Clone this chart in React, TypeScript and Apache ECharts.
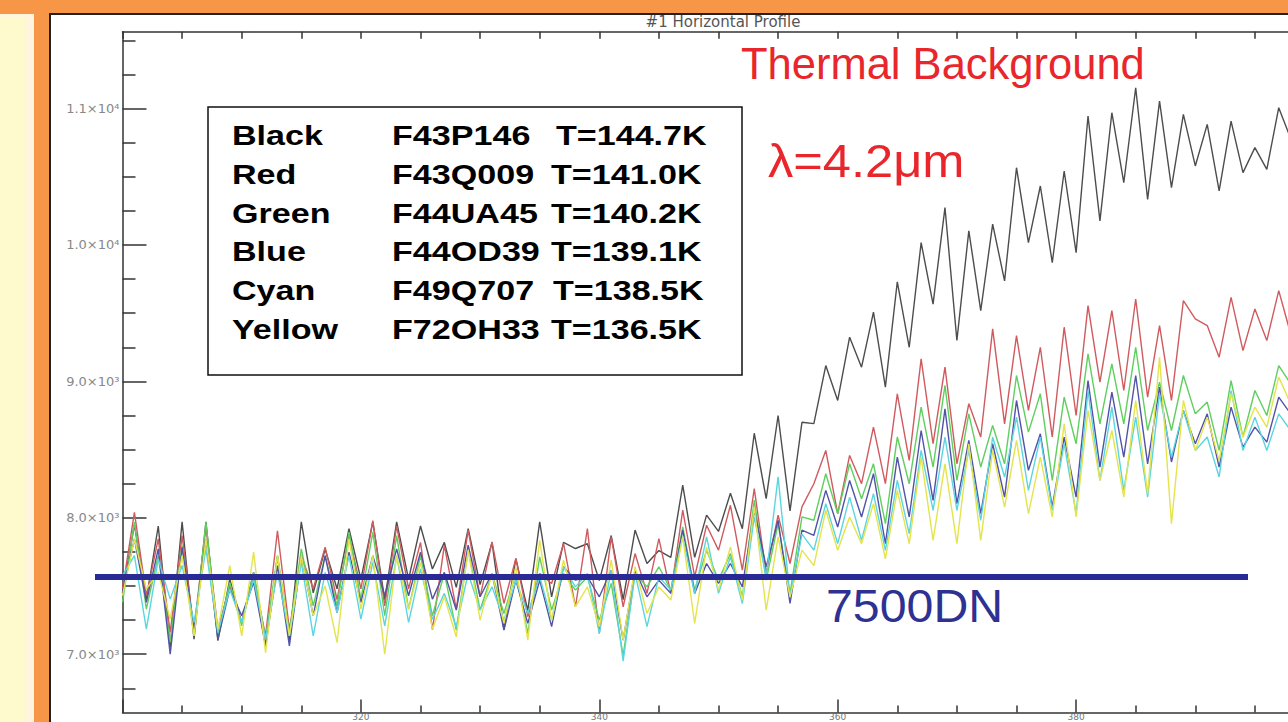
import React, { useEffect, useRef } from "react";
import * as echarts from "echarts";

const xValues = [
  300, 301, 302, 303, 304, 305, 306, 307, 308, 309,
  310, 311, 312, 313, 314, 315, 316, 317, 318, 319,
  320, 321, 322, 323, 324, 325, 326, 327, 328, 329,
  330, 331, 332, 333, 334, 335, 336, 337, 338, 339,
  340, 341, 342, 343, 344, 345, 346, 347, 348, 349,
  350, 351, 352, 353, 354, 355, 356, 357, 358, 359,
  360, 361, 362, 363, 364, 365, 366, 367, 368, 369,
  370, 371, 372, 373, 374, 375, 376, 377, 378, 379,
  380, 381, 382, 383, 384, 385, 386, 387, 388, 389,
  390, 391, 392, 393, 394, 395, 396, 397, 398,
];

const blackValues = [
  7450, 7950, 7400, 7940, 7050, 7970, 7110, 7970, 7100, 7550,
  7230, 7600, 7060, 7720, 7100, 7970, 7450, 7770, 7480, 7920,
  7550, 7970, 7400, 7970, 7550, 7940, 7625, 7820, 7490, 7920,
  7510, 7820, 7180, 7700, 7320, 7970, 7420, 7820, 7775, 7810,
  7540, 7870, 7400, 7910, 7665, 7760, 7710, 8240, 7710, 8020,
  7900, 8180, 7920, 8620, 8140, 8750, 8050, 8700, 8690, 9116,
  8860, 9324, 9104, 9507, 8958, 9730, 9250, 10017, 9566, 10274,
  9300, 10103, 9519, 10152, 9737, 10566, 10017, 10432, 9871, 10542,
  9944, 10945, 10176, 10969, 10456, 11152, 10334, 11054, 10420, 10957,
  10579, 10884, 10396, 10908, 10530, 10713, 10554, 11006, 10780,
];

const redValues = [
  7478, 8040, 7430, 7845, 7160, 7870, 7180, 7940, 7180, 7500,
  7230, 7575, 7135, 7905, 7180, 7720, 7480, 7785, 7400, 7870,
  7480, 7980, 7355, 7940, 7480, 7820, 7180, 7800, 7330, 7909,
  7421, 7824, 7372, 7702, 7275, 7592, 7519, 7812, 7348, 7921,
  7153, 7860, 7348, 7738, 7446, 7848, 7446, 8056, 7568, 7946,
  7763, 8092, 7616, 8214, 7592, 8019, 7665, 8080, 8250, 8494,
  8030, 8457, 8250, 8665, 8250, 8909, 8421, 9165, 8543, 9104,
  8396, 8836, 8592, 9385, 8689, 9336, 8787, 9250, 8592, 9397,
  8750, 9555, 8994, 9519, 8933, 9604, 8884, 9409, 8860, 9592,
  9458, 9409, 9177, 9616, 9226, 9531, 9299, 9665, 9348,
];

const greenValues = [
  7380, 7968, 7331, 7723, 7086, 7797, 7135, 7968, 7135, 7527,
  7208, 7600, 7110, 7723, 7159, 7772, 7355, 7723, 7355, 7895,
  7404, 7895, 7282, 7870, 7331, 7723, 7282, 7592, 7177, 7763,
  7324, 7592, 7299, 7592, 7153, 7714, 7324, 7592, 7470, 7568,
  7250, 7519, 6990, 7592, 7494, 7641, 7470, 7934, 7470, 7763,
  7543, 7738, 7421, 8129, 7543, 7958, 7446, 8007, 7982, 8323,
  8030, 8396, 8140, 8396, 7957, 8592, 8250, 8811, 8372, 8970,
  8274, 8762, 8372, 8677, 8396, 9043, 8628, 8909, 8274, 8884,
  8543, 9202, 8689, 9128, 8689, 9250, 8640, 8994, 8640, 9043,
  8762, 8848, 8494, 9006, 8592, 8933, 8750, 9116, 8982,
];

const blueValues = [
  7453, 7846, 7380, 7772, 7000, 7784, 7184, 7846, 7110, 7478,
  7282, 7527, 7061, 7650, 7061, 7723, 7282, 7723, 7306, 7748,
  7380, 7723, 7429, 7772, 7429, 7748, 7404, 7600, 7324, 7800,
  7421, 7592, 7177, 7543, 7226, 7543, 7202, 7641, 7543, 7568,
  7421, 7616, 7104, 7616, 7421, 7543, 7446, 7909, 7446, 7665,
  7519, 7665, 7494, 8056, 7641, 7982, 7372, 7909, 7872, 8201,
  7933, 8274, 8006, 8323, 7811, 8445, 8006, 8640, 8128, 8799,
  8104, 8567, 8030, 8543, 8152, 8860, 8348, 8616, 8079, 8592,
  8152, 9006, 8372, 8921, 8445, 9043, 8396, 8958, 8409, 8787,
  8543, 8762, 8372, 8811, 8518, 8665, 8555, 8884, 8762,
];

const cyanValues = [
  7576, 7723, 7184, 7698, 7404, 7650, 7233, 7772, 7159, 7478,
  7233, 7551, 7110, 7600, 7135, 7674, 7135, 7600, 7306, 7723,
  7257, 7674, 7208, 7723, 7233, 7625, 7257, 7446, 7202, 7592,
  7324, 7494, 7250, 7543, 7299, 7568, 7250, 7641, 7494, 7592,
  7153, 7616, 6950, 7592, 7202, 7568, 7470, 7860, 7446, 7860,
  7446, 7714, 7372, 8007, 7568, 8300, 7421, 7880, 7763, 8104,
  7811, 8152, 7835, 8177, 7762, 8274, 7884, 8494, 8055, 8592,
  8055, 8494, 7982, 8592, 8299, 8738, 8201, 8592, 8055, 8543,
  8030, 8933, 8274, 8811, 8201, 8738, 8152, 8909, 8445, 8787,
  8494, 8592, 8299, 8933, 8494, 8738, 8494, 8762, 8640,
];

const yellowValues = [
  7429, 7846, 7478, 7600, 7257, 7723, 7135, 7846, 7184, 7650,
  7135, 7748, 7012, 7723, 7135, 7723, 7282, 7500, 7086, 7846,
  7331, 7723, 7000, 7723, 7331, 7674, 7184, 7421, 7128, 7763,
  7250, 7592, 7226, 7641, 7104, 7836, 7250, 7690, 7348, 7494,
  7202, 7690, 7104, 7641, 7299, 7494, 7397, 7860, 7226, 7787,
  7470, 7787, 7397, 8080, 7324, 7860, 7421, 7763, 7650, 8055,
  7762, 8006, 7811, 8104, 7700, 8201, 7811, 8445, 7835, 8396,
  7811, 8543, 7835, 8494, 8079, 8567, 8030, 8445, 8006, 8689,
  8006, 8787, 8274, 8640, 8152, 8860, 8177, 9177, 7957, 8860,
  8494, 8738, 8421, 8909, 8592, 8811, 8665, 9031, 8836,
];

const seriesNames = ["Black", "Red", "Green", "Blue", "Cyan", "Yellow"];
const seriesColors = ["#4d4d4d", "#d05a5e", "#5fcf5f", "#5252a8", "#5ad6e0", "#e4e44c"];
const seriesValues = [blackValues, redValues, greenValues, blueValues, cyanValues, yellowValues];

const legendIds = ["F43P146", "F43Q009", "F44UA45", "F44OD39", "F49Q707", "F72OH33"];
const legendTemps = ["T=144.7K", "T=141.0K", "T=140.2K", "T=139.1K", "T=138.5K", "T=136.5K"];

const yMajorTicks = [7000, 8000, 9000, 10000, 11000];
const yTickLabels = ["7.0×10³", "8.0×10³", "9.0×10³", "1.0×10⁴", "1.1×10⁴"];
const yMinorTicks = [6750, 7250, 7500, 7750, 8250, 8500, 8750, 9250, 9500, 9750, 10250, 10500, 10750, 11250, 11500];
const xMajorTicks = [300, 320, 340, 360, 380, 400];
const xLabelTicks = [320, 340, 360, 380];
const xMinorTicks = [305, 310, 315, 325, 330, 335, 345, 350, 355, 365, 370, 375, 385, 390, 395];
const xTopTicks = [300, 305, 310, 315, 320, 325, 330, 335, 340, 345, 350, 355, 360, 365, 370, 375, 380, 385, 390, 395, 400];

const Y_MIN = 6573;
const Y_MAX = 11563;
const X_MIN = 300;
const X_MAX = 400;

export default function App() {
  const ref = useRef<HTMLDivElement>(null);

  useEffect(() => {
    if (!ref.current) return;
    const chart = echarts.init(ref.current, undefined, { renderer: "svg" });
    const axisColor = "#333";
    const labelMap: Record<number, string> = {};
    yMajorTicks.forEach((v, i) => (labelMap[v] = yTickLabels[i]));

    const legendRowY = [136, 174.7, 213.4, 252.1, 290.8, 329.5];
    const tempX = [556, 551, 551, 551, 553, 551];
    const legendFont = {
      fontSize: 27.5,
      fontWeight: "bold",
      fontFamily: "Liberation Sans, Arial, sans-serif",
      fill: "#000",
      textVerticalAlign: "middle",
    };
    const legendTexts: any[] = [];
    seriesNames.forEach((name, i) => {
      legendTexts.push({
        type: "text", x: 232, y: legendRowY[i], scaleX: 1.24, z: 101,
        style: { ...legendFont, text: name },
      });
      legendTexts.push({
        type: "text", x: 392, y: legendRowY[i], scaleX: 1.24, z: 101,
        style: { ...legendFont, text: legendIds[i] },
      });
      legendTexts.push({
        type: "text", x: tempX[i], y: legendRowY[i], scaleX: 1.24, z: 101,
        style: { ...legendFont, text: legendTemps[i] },
      });
    });

    chart.setOption({
      animation: false,
      grid: {
        left: 122.5, top: 31.7, width: 1192, height: 680.8,
        containLabel: false, outerBoundsMode: "none",
      },
      xAxis: [
        {
          type: "value", min: X_MIN, max: X_MAX, position: "bottom",
          axisLine: { show: true, onZero: false, lineStyle: { color: axisColor, width: 1.5 } },
          axisTick: { show: true, inside: true, length: 13, customValues: xMajorTicks, lineStyle: { color: axisColor, width: 1.5 } },
          axisLabel: {
            show: true, customValues: xLabelTicks, margin: 0, color: "#777", fontSize: 9, lineHeight: 9,
            fontFamily: "DejaVu Sans, sans-serif",
          },
          splitLine: { show: false },
        },
        {
          type: "value", min: X_MIN, max: X_MAX, position: "bottom",
          axisLine: { show: false, onZero: false },
          axisTick: { show: true, inside: true, length: 7, customValues: xMinorTicks, lineStyle: { color: axisColor, width: 1.5 } },
          axisLabel: { show: false },
          splitLine: { show: false },
        },
        {
          type: "value", min: X_MIN, max: X_MAX, position: "top",
          axisLine: { show: true, onZero: false, lineStyle: { color: axisColor, width: 1.5 } },
          axisTick: { show: true, inside: true, length: 7, customValues: xTopTicks, lineStyle: { color: axisColor, width: 1.5 } },
          axisLabel: { show: false },
          splitLine: { show: false },
        },
      ],
      yAxis: [
        {
          type: "value", min: Y_MIN, max: Y_MAX, position: "left",
          axisLine: { show: true, onZero: false, lineStyle: { color: axisColor, width: 1.5 } },
          axisTick: { show: true, inside: true, length: 24, customValues: yMajorTicks, lineStyle: { color: axisColor, width: 1.5 } },
          axisLabel: {
            show: true, customValues: yMajorTicks, margin: 3, color: "#888", fontSize: 13,
            fontFamily: "DejaVu Sans, sans-serif",
            formatter: (v: number) => labelMap[v] ?? "",
          },
          splitLine: { show: false },
        },
        {
          type: "value", min: Y_MIN, max: Y_MAX, position: "left",
          axisLine: { show: false, onZero: false },
          axisTick: { show: true, inside: true, length: 13, customValues: yMinorTicks, lineStyle: { color: axisColor, width: 1.5 } },
          axisLabel: { show: false },
          splitLine: { show: false },
        },
      ],
      series: seriesValues.map((vals, si) => ({
        name: seriesNames[si],
        type: "line",
        xAxisIndex: 0,
        yAxisIndex: 0,
        showSymbol: false,
        symbol: "none",
        clip: true,
        z: 2 + si,
        lineStyle: { color: seriesColors[si], width: 1.4 },
        itemStyle: { color: seriesColors[si] },
        data: xValues.map((x, i) => [x, vals[i]]),
      })),
      graphic: {
        elements: [
          {
            type: "text", x: 723, y: 22, z: 100,
            style: {
              text: "#1 Horizontal Profile", fontSize: 15, fontFamily: "DejaVu Sans, sans-serif",
              fill: "#555", textAlign: "center", textVerticalAlign: "middle",
            },
          },
          {
            type: "text", x: 741, y: 64, z: 100,
            style: {
              text: "Thermal Background", fontSize: 43.5, fontFamily: "Liberation Sans, Arial, sans-serif",
              fill: "#e8262b", textVerticalAlign: "middle",
            },
          },
          {
            type: "text", x: 768, y: 161, z: 100, scaleX: 1.1,
            style: {
              text: "λ=4.2μm", fontSize: 46, fontFamily: "Liberation Sans, Arial, sans-serif",
              fill: "#e8262b", textVerticalAlign: "middle",
            },
          },
          {
            type: "line", z: 100,
            shape: { x1: 95, y1: 577, x2: 1248, y2: 577 },
            style: { stroke: "#2a2a96", lineWidth: 6 },
          },
          {
            type: "text", x: 826, y: 606, z: 100, scaleX: 1.05,
            style: {
              text: "7500DN", fontSize: 46, fontFamily: "Liberation Sans, Arial, sans-serif",
              fill: "#2e3192", textVerticalAlign: "middle",
            },
          },
          {
            type: "rect", z: 100,
            shape: { x: 208, y: 107, width: 534, height: 268 },
            style: { fill: "#fff", stroke: "#111", lineWidth: 1.5 },
          },
          ...legendTexts,
        ],
      },
    });
    return () => chart.dispose();
  }, []);

  return (
    <div style={{ position: "absolute", left: 0, top: 0, width: 1288, height: 722, overflow: "hidden", background: "#F79646" }}>
      <div style={{ position: "absolute", left: 0, top: 14, width: 34, height: 708, background: "#FFF4DE" }} />
      <div style={{ position: "absolute", left: 0, top: 17, width: 25, height: 705, background: "#FFFACD" }} />
      <div style={{ position: "absolute", left: 49, top: 13, width: 1300, height: 720, background: "#fff", borderLeft: "2px solid #222", borderTop: "2px solid #222" }} />
      <div ref={ref} style={{ position: "absolute", left: 0, top: 0, width: 1340, height: 722 }} />
    </div>
  );
}
